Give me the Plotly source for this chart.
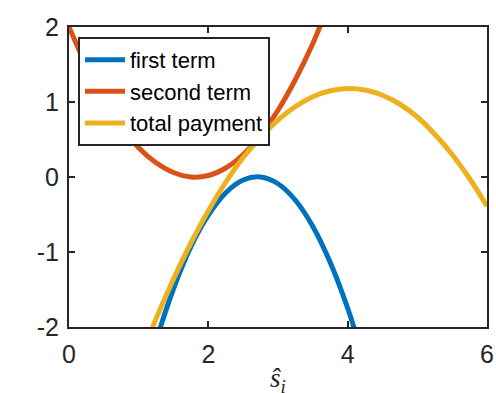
import plotly.graph_objects as go

# Sampled curve values
x_first = [1.25, 1.5, 1.75, 2.0, 2.25, 2.5, 2.75, 3.0, 3.25, 3.5, 3.75, 4.0, 4.25]
y_first = [-2.18, -1.49, -0.93, -0.51, -0.21, -0.04, -0.00, -0.09, -0.31, -0.66, -1.14, -1.75, -2.49]

x_second = [0.0, 0.25, 0.5, 0.75, 1.0, 1.25, 1.5, 1.75, 2.0, 2.25, 2.5, 2.75, 3.0, 3.25, 3.5, 3.75]
y_second = [2.00, 1.48, 1.04, 0.68, 0.39, 0.19, 0.06, 0.00, 0.02, 0.12, 0.30, 0.56, 0.89, 1.30, 1.78, 2.35]

x_total = [1.0, 1.25, 1.5, 1.75, 2.0, 2.25, 2.5, 2.75, 3.0, 3.25, 3.5, 3.75, 4.0,
           4.25, 4.5, 4.75, 5.0, 5.25, 5.5, 5.75, 6.0]
y_total = [-2.47, -1.89, -1.36, -0.88, -0.45, -0.07, 0.26, 0.53, 0.76, 0.94, 1.07, 1.15, 1.18,
           1.16, 1.09, 0.97, 0.80, 0.57, 0.30, -0.02, -0.39]

x_ticks = [0, 2, 4, 6]
x_ticklabels = ["0", "2", "4", "6"]
y_ticks = [-2, -1, 0, 1, 2]
y_ticklabels = ["-2", "-1", "0", "1", "2"]
x_label = "<i>ŝ</i><sub><i>i</i></sub>"

AX = "#262626"
FONT = "Liberation Sans, Arial, Helvetica, sans-serif"

fig = go.Figure()
fig.add_trace(go.Scatter(x=x_first, y=y_first, mode="lines", name="first term",
                         line=dict(color="#0072BD", width=5, shape="spline")))
fig.add_trace(go.Scatter(x=x_second, y=y_second, mode="lines", name="second term",
                         line=dict(color="#D95319", width=5, shape="spline")))
fig.add_trace(go.Scatter(x=x_total, y=y_total, mode="lines", name="total payment",
                         line=dict(color="#EDB120", width=5, shape="spline")))

axis_common = dict(showline=True, linecolor=AX, linewidth=2, mirror="ticks",
                   ticks="inside", ticklen=6, tickwidth=2, tickcolor=AX,
                   showgrid=False, zeroline=False, automargin=False,
                   tickfont=dict(family=FONT, size=25, color=AX))

fig.update_layout(
    width=496, height=393,
    margin=dict(l=69, r=9, t=27, b=66),
    paper_bgcolor="white", plot_bgcolor="white",
    showlegend=True,
    legend=dict(x=0.0215, y=0.967, xanchor="left", yanchor="top",
                bgcolor="white", bordercolor=AX, borderwidth=2,
                font=dict(family=FONT, size=22, color="black"),
                itemwidth=40, tracegroupgap=0),
    xaxis=dict(range=[0, 6], tickvals=x_ticks, ticktext=x_ticklabels,
               ticklabelstandoff=4, **axis_common),
    yaxis=dict(range=[-2, 2], tickvals=y_ticks, ticktext=y_ticklabels,
               ticklabelstandoff=3, **axis_common),
    annotations=[dict(text=x_label, xref="paper", yref="paper", x=0.5, y=0,
                      xanchor="center", yanchor="top", yshift=-34, showarrow=False,
                      font=dict(family="Liberation Serif, Times New Roman, serif",
                                size=27, color=AX))],
)

fig.write_html("out.html")
